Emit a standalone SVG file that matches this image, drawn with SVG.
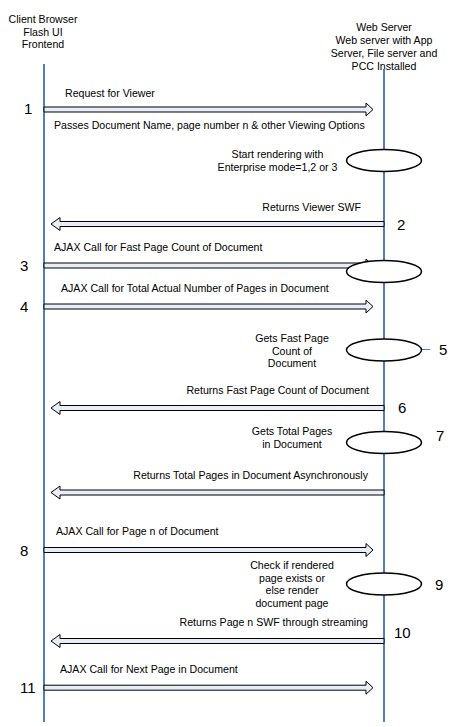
<svg xmlns="http://www.w3.org/2000/svg" width="460" height="727" viewBox="0 0 460 727">
<style>
text{font-family:"Liberation Sans",Arial,sans-serif;font-size:10.6px;fill:#000}
.num{font-size:15px}
.mid{text-anchor:middle}
.end{text-anchor:end}
.life{stroke:#4f7fc0;stroke-width:2;fill:none}
.arr{fill:#e8eef8;stroke:#000;stroke-width:1}
.ell{fill:#fff;stroke:#000;stroke-width:1.5}
</style>
<rect width="460" height="727" fill="#fff"/>
<g id="client">
<text class="mid" x="43" y="23">Client Browser</text>
<text class="mid" x="43" y="35.5">Flash UI</text>
<text class="mid" x="43" y="48">Frontend</text>
<line class="life" x1="44" y1="64" x2="44" y2="722"/>
</g>
<g id="server">
<text class="mid" x="384" y="31">Web Server</text>
<text class="mid" x="384" y="43.5">Web server with App</text>
<text class="mid" x="384" y="56.5">Server, File server and</text>
<text class="mid" x="384" y="69.5">PCC Installed</text>
<line class="life" x1="384" y1="69" x2="384" y2="722"/>
</g>
<g id="connectors">
<path class="arr" d="M44,107 H366 V103 L373,109.5 L366,116 V112 H44 Z"/>
<path class="arr" d="M384,221.5 H60 V217.5 L51,224 L60,230.5 V226.5 H384 Z"/>
<path class="arr" d="M44,263 H366 V259 L373,265.5 L366,272 V268 H44 Z"/>
<path class="arr" d="M44,304 H366 V300 L373,306.5 L366,313 V309 H44 Z"/>
<line x1="421" y1="349.5" x2="430" y2="349.5" stroke="#4f7fc0" stroke-width="1"/>
<path class="arr" d="M384,405.5 H60 V401.5 L51,408 L60,414.5 V410.5 H384 Z"/>
<path class="arr" d="M384,490 H60 V486 L51,492.5 L60,499 V495 H384 Z"/>
<path class="arr" d="M44,547.5 H366 V543.5 L373,550 L366,556.5 V552.5 H44 Z"/>
<path class="arr" d="M384,638.5 H60 V634.5 L51,641 L60,647.5 V643.5 H384 Z"/>
<path class="arr" d="M44,685.2 H366 V681.2 L373,687.7 L366,694.2 V690.2 H44 Z"/>
</g>
<g id="step1">
<text class="num" x="24" y="114">1</text>
<text x="65" y="97">Request for Viewer</text>
<text x="54" y="128.5">Passes Document Name, page number n &amp; other Viewing Options</text>
</g>
<g id="render">
<ellipse class="ell" cx="384" cy="160.5" rx="37.5" ry="11"/>
<text class="mid" x="277.5" y="158">Start rendering with</text>
<text class="mid" x="277.5" y="171">Enterprise mode=1,2 or 3</text>
</g>
<g id="step2">
<text class="end" x="361" y="210.5">Returns Viewer SWF</text>
<text class="num" x="397" y="229.5">2</text>
</g>
<g id="step3">
<text x="54" y="251">AJAX Call for Fast Page Count of Document</text>
<text class="num" x="20" y="271">3</text>
<ellipse class="ell" cx="384" cy="271.5" rx="37.5" ry="11"/>
</g>
<g id="step4">
<text x="61" y="292">AJAX Call for Total Actual Number of Pages in Document</text>
<text class="num" x="20" y="312">4</text>
</g>
<g id="step5">
<ellipse class="ell" cx="384" cy="350" rx="37.5" ry="11"/>
<text class="mid" x="292" y="342">Gets Fast Page</text>
<text class="mid" x="292" y="354.5">Count of</text>
<text class="mid" x="292" y="367">Document</text>
<text class="num" x="439" y="355">5</text>
</g>
<g id="step6">
<text class="end" x="369" y="393.5">Returns Fast Page Count of Document</text>
<text class="num" x="398" y="413">6</text>
</g>
<g id="step7">
<ellipse class="ell" cx="384" cy="442.5" rx="37.5" ry="11"/>
<text class="mid" x="292" y="435">Gets Total Pages</text>
<text class="mid" x="292" y="448">in Document</text>
<text class="num" x="436" y="440.5">7</text>
<text class="end" x="368" y="478.5">Returns Total Pages in Document Asynchronously</text>
</g>
<g id="step8">
<text x="56" y="535">AJAX Call for Page n of Document</text>
<text class="num" x="20" y="555.5">8</text>
</g>
<g id="step9">
<ellipse class="ell" cx="384" cy="584" rx="37.5" ry="11"/>
<text class="mid" x="292" y="569">Check if rendered</text>
<text class="mid" x="292" y="581.5">page exists or</text>
<text class="mid" x="292" y="594">else render</text>
<text class="mid" x="292" y="606.5">document page</text>
<text class="num" x="435" y="589.5">9</text>
</g>
<g id="step10">
<text class="end" x="368" y="626">Returns Page n SWF through streaming</text>
<text class="num" x="394" y="638">10</text>
</g>
<g id="step11">
<text x="60" y="673">AJAX Call for Next Page in Document</text>
<text class="num" x="20" y="693">11</text>
</g>
</svg>
